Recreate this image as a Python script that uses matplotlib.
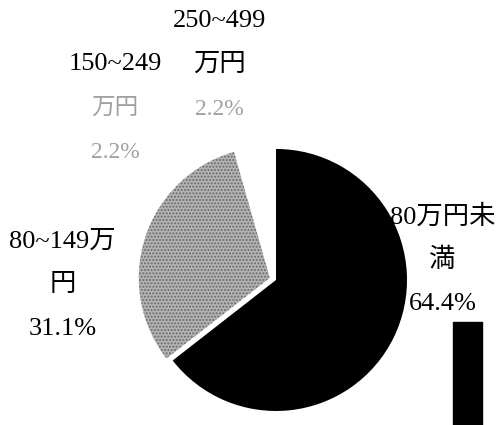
import matplotlib.pyplot as plt
from matplotlib.patches import Rectangle

plt.rcParams['font.family'] = ['Liberation Serif', 'Noto Sans CJK JP']

# slice data (clockwise from 12 o'clock)
shares = [64.4, 31.1, 2.2, 2.2]
names = ['80万円未\n満', '80~149万\n円', '150~249\n万円', '250~499\n万円']
pct_labels = ['64.4%', '31.1%', '2.2%', '2.2%']

fig = plt.figure(figsize=(4.97, 4.25), dpi=100)
ax = fig.add_axes([0, 0, 1, 1])

wedges, _ = ax.pie(shares, startangle=90, counterclock=False,
                   explode=[0, 0.05, 0, 0],
                   colors=['black', '#b4b4b4', 'white', 'white'],
                   wedgeprops={'linewidth': 0})
wedges[1].set_hatch('.....')
wedges[1].set_edgecolor('#6a6a6a')

# labels: name lines dark, faint text for the small slices
label_pos = [(1.27, 0.15), (-1.63, -0.04), (-1.23, 1.31), (-0.43, 1.64)]
fs = 19
step = 0.335
for i, (x, y) in enumerate(label_pos):
    lines = names[i].split('\n') + [pct_labels[i]]
    for j, line in enumerate(lines):
        faint = (i == 2 and j > 0) or (i == 3 and j == 2)
        ax.text(x, y + step * (1 - j), line, ha='center', va='center',
                fontsize=fs if not faint else fs - 2,
                color='#a0a0a0' if faint else 'black')

# cut-off legend swatch at bottom right
ax.add_patch(Rectangle((1.351, -1.2), 0.222, 0.88, color='black'))

ax.set_xlim(-2.107, 1.687)
ax.set_ylim(-1.107, 2.137)
ax.set_aspect('auto')
ax.axis('off')

fig.savefig('out.png', dpi=100)
